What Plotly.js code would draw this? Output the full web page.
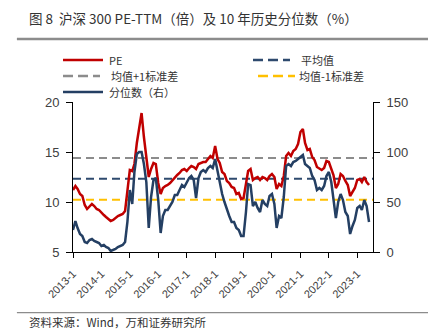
<!DOCTYPE html>
<html>
<head>
<meta charset="utf-8">
<script src="https://cdn.plot.ly/plotly-3.0.1.min.js"></script>
<style>
html,body{margin:0;padding:0;background:#fff;}
#chart{width:428px;height:336px;}
</style>
</head>
<body>
<div id="chart"></div>
<script>
// ---- data ----
var startMonth = '2013-01';
var years = ['2013','2014','2015','2016','2017','2018','2019','2020','2021','2022','2023'];
var tickLabels = ['2013-1','2014-1','2015-1','2016-1','2017-1','2018-1','2019-1','2020-1','2021-1','2022-1','2023-1'];
var seriesNames = ['PE', '平均值', '均值+1标准差', '均值-1标准差', '分位数（右）'];
var pe = [
  11.2, 11.6, 11.3, 10.8, 10.6, 9.7, 9.3, 9.6, 9.8, 9.6, 9.3, 9.2,
  8.9, 8.7, 8.5, 8.3, 8.1, 8.2, 8.4, 8.6, 8.7, 8.8, 9.1, 11.0,
  13.2, 13.1, 13.8, 15.9, 17.4, 18.9, 16.5, 14.3, 12.5, 13.3, 13.9, 13.8,
  11.9, 10.8, 11.4, 11.6, 11.7, 11.9, 12.2, 12.5, 12.7, 12.9, 13.2, 13.3,
  13.1, 13.4, 13.6, 13.5, 13.3, 13.8, 13.9, 14.0, 14.0, 14.3, 14.6, 14.4,
  15.6, 14.3, 13.9, 13.0, 12.8, 12.1, 11.9, 11.5, 11.4, 10.8, 10.9, 10.3,
  10.4, 11.8, 13.1, 13.3, 12.2, 12.4, 12.5, 12.2, 12.5, 12.4, 12.2, 12.6,
  12.8, 12.5, 11.3, 11.8, 11.6, 12.6, 14.6, 14.9, 14.6, 15.1, 15.3, 15.8,
  17.0, 17.3, 15.9, 15.2, 15.3, 14.5, 14.2, 13.5, 13.3, 13.2, 13.4, 14.1,
  14.0, 13.3, 12.7, 11.4, 11.8, 12.8, 12.6, 12.1, 11.7, 10.6, 11.0, 11.4,
  12.2, 12.3, 12.0, 12.5, 12.0, 11.7
];
var pct = [
  22, 31, 24, 18, 16, 10, 9, 12, 13, 11, 10, 9,
  6, 7, 5, 4, 1, 2, 3, 5, 6, 7, 10, 30,
  62, 48, 80, 98, 100, 100, 88, 70, 24, 55, 72, 74,
  52, 19, 36, 42, 42, 46, 50, 57, 57, 62, 67, 65,
  70, 74, 76, 72, 54, 74, 80, 82, 80, 84, 86, 84,
  93, 80, 72, 58, 50, 42, 36, 30, 30, 24, 22, 16,
  16, 40, 68, 67, 46, 50, 44, 40, 52, 48, 46, 56,
  58, 48, 24, 36, 34, 55, 86, 88, 86, 90, 91, 93,
  95, 97, 88, 86, 84, 76, 72, 62, 64, 62, 66, 76,
  80, 70, 52, 34, 50, 58, 52, 40, 36, 18, 26, 32,
  44, 46, 42, 52, 46, 30
];
var peMean = 12.33;
var peUpper = 14.4;
var peLower = 10.23;

// ---- build ----
var dates = [];
(function(){
  var y = parseInt(startMonth.slice(0,4),10), m = parseInt(startMonth.slice(5,7),10);
  for (var i = 0; i < pe.length; i++) {
    dates.push(y + '-' + (m < 10 ? '0' + m : m) + '-01');
    m++; if (m > 12) { m = 1; y++; }
  }
})();
var tickVals = years.map(function(y){ return y + '-01-01'; });
var xRange = ['2013-01-01', '2023-07-22'];

var FONT = 'Liberation Sans, Noto Sans CJK SC, sans-serif';
var CJK = 'Noto Sans CJK SC, sans-serif';
var DASH = '8px,5px';
var styles = [
  {color: '#C00000', width: 2.5},
  {color: '#2E4A6E', width: 2, dash: DASH},
  {color: '#8C8C8C', width: 2, dash: DASH},
  {color: '#FFC000', width: 2, dash: DASH},
  {color: '#243F63', width: 2.5}
];

var traces = [
  {x: xRange, y: [peMean, peMean], name: seriesNames[1], type: 'scatter', mode: 'lines', line: styles[1]},
  {x: xRange, y: [peUpper, peUpper], name: seriesNames[2], type: 'scatter', mode: 'lines', line: styles[2]},
  {x: xRange, y: [peLower, peLower], name: seriesNames[3], type: 'scatter', mode: 'lines', line: styles[3]},
  {x: dates, y: pe, name: seriesNames[0], type: 'scatter', mode: 'lines', line: styles[0]},
  {x: dates, y: pct, name: seriesNames[4], type: 'scatter', mode: 'lines', yaxis: 'y2', line: styles[4]}
];

// manual legend (paper coords: x=(px-73)/300, y=(252-py)/150)
var legendSpec = [
  {i: 0, x0: -0.0333, x1: 0.1,    tx: 0.1167, y: 1.28},
  {i: 1, x0: 0.6,     x1: 0.7233, tx: 0.7567, y: 1.28},
  {i: 2, x0: -0.0333, x1: 0.09,   tx: 0.1233, y: 1.173},
  {i: 3, x0: 0.6167,  x1: 0.74,   tx: 0.75,   y: 1.173},
  {i: 4, x0: -0.0333, x1: 0.1,    tx: 0.1167, y: 1.066}
];
var shapes = [
  {type: 'line', xref: 'paper', yref: 'paper', x0: -0.187, x1: 1.2, y0: 1.42, y1: 1.42,
   line: {color: '#8C8C8C', width: 2.5}},
  {type: 'line', xref: 'paper', yref: 'paper', x0: -0.187, x1: 1.2, y0: -0.404, y1: -0.404,
   line: {color: '#8C8C8C', width: 1.2}}
];
var annotations = [
  {text: '图 8  沪深 300 PE-TTM（倍）及 10 年历史分位数（%）', xref: 'paper', yref: 'paper',
   x: -0.155, y: 1.56, xanchor: 'left', yanchor: 'middle', showarrow: false,
   font: {family: CJK, size: 13.5, color: '#333'}},
  {text: '资料来源：Wind，万和证券研究所', xref: 'paper', yref: 'paper',
   x: -0.155, y: -0.465, xanchor: 'left', yanchor: 'middle', showarrow: false,
   font: {family: CJK, size: 11.5, color: '#333'}}
];
legendSpec.forEach(function(s){
  var st = styles[s.i];
  shapes.push({type: 'line', xref: 'paper', yref: 'paper', x0: s.x0, x1: s.x1, y0: s.y, y1: s.y,
    line: {color: st.color, width: 2.5, dash: st.dash ? '10px,5px' : 'solid'}});
  annotations.push({text: seriesNames[s.i], xref: 'paper', yref: 'paper', x: s.tx, y: s.y,
    xanchor: 'left', yanchor: 'middle', showarrow: false, borderpad: 0,
    font: {family: CJK, size: 11, color: '#333'}});
});

var axisCommon = {ticks: 'outside', ticklen: 6, tickcolor: '#000', showline: true, linecolor: '#000',
                  linewidth: 1, showgrid: false, zeroline: false};

var layout = {
  width: 428, height: 336,
  margin: {l: 73, r: 55, t: 102, b: 84},
  paper_bgcolor: '#fff', plot_bgcolor: '#fff',
  font: {family: FONT, size: 11, color: '#333'},
  showlegend: false,
  xaxis: Object.assign({}, axisCommon, {type: 'date', range: xRange, tickmode: 'array', tickvals: tickVals,
          ticktext: tickLabels, tickangle: -45, ticklen: 5, ticklabelstandoff: 5,
          tickfont: {family: FONT, size: 11, color: '#404040'}}),
  yaxis: Object.assign({}, axisCommon, {range: [5, 20], tickvals: [5, 10, 15, 20], ticklabelstandoff: 4,
          tickfont: {family: FONT, size: 13, color: '#404040'}}),
  yaxis2: Object.assign({}, axisCommon, {range: [0, 150], tickvals: [0, 50, 100, 150], overlaying: 'y',
           side: 'right', ticklabelstandoff: 4, tickfont: {family: FONT, size: 13, color: '#404040'}}),
  shapes: shapes,
  annotations: annotations
};

Plotly.newPlot('chart', traces, layout, {displayModeBar: false, staticPlot: true});
</script>
</body>
</html>
